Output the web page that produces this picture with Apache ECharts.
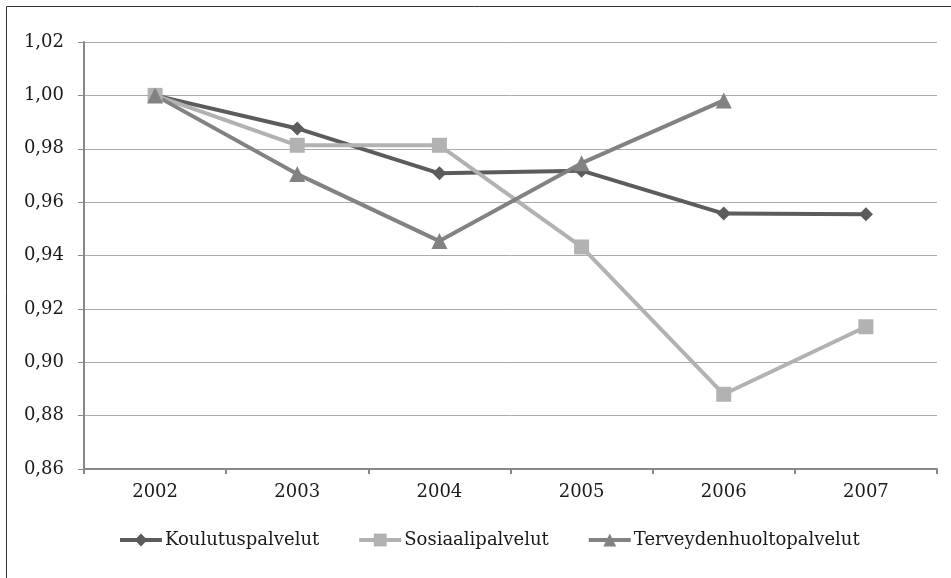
<!DOCTYPE html>
<html><head><meta charset="utf-8">
<script src="https://cdn.jsdelivr.net/npm/echarts@6/dist/echarts.min.js"></script>
<style>html,body{margin:0;padding:0;background:#fff}#c{width:951px;height:578px}</style>
</head><body><div id="c"></div>
<script>
const categories = ['2002','2003','2004','2005','2006','2007'];
const koulutus = [1.000, 0.9876, 0.9708, 0.9718, 0.9557, 0.9555];
const sosiaali = [1.000, 0.9813, 0.9813, 0.9432, 0.8880, 0.9133];
const terveys = [1.000, 0.9705, 0.9454, 0.9746, 0.9981, null];
const yMin = 0.86, yMax = 1.02, yStep = 0.02;

const font = 'DejaVu Serif';
const chart = echarts.init(document.getElementById('c'), null, {renderer:'canvas'});
function s(name, data, color, symbol, size){
  return {name, type:'line', data, symbol, symbolSize:size, showSymbol:true,
    lineStyle:{color, width:4}, itemStyle:{color}, connectNulls:false, animation:false};
}
chart.setOption({
  animation:false,
  textStyle:{fontFamily:font},
  graphic:[{type:'rect', shape:{x:6.5,y:6.5,width:960,height:600}, style:{fill:null, stroke:'#333', lineWidth:1}, silent:true}],
  grid:{left:84, right:14, top:42, bottom:109, containLabel:false},
  xAxis:{type:'category', data:categories, boundaryGap:true,
    axisLine:{lineStyle:{color:'#888', width:2}},
    axisTick:{show:true, length:5, lineStyle:{color:'#888', width:2}},
    axisLabel:{color:'#1a1a1a', fontSize:18, fontFamily:font, margin:14}},
  yAxis:{type:'value', min:yMin, max:yMax, interval:yStep,
    axisLine:{show:true, lineStyle:{color:'#888', width:2}},
    axisTick:{show:true, length:6, lineStyle:{color:'#888', width:1}},
    splitLine:{lineStyle:{color:'#aaa', width:1}},
    axisLabel:{color:'#1a1a1a', fontSize:18, fontFamily:font, margin:20,
      formatter:v=>v.toFixed(2).replace('.',',')}},
  legend:{bottom:24, left:113, itemWidth:42, itemHeight:16, itemGap:38,
    lineStyle:{width:4},
    textStyle:{color:'#1a1a1a', fontSize:18, fontFamily:font, padding:[0,0,0,-2]},
    data:['Koulutuspalvelut','Sosiaalipalvelut','Terveydenhuoltopalvelut']},
  series:[
    s('Koulutuspalvelut', koulutus, '#5c5c5c', 'diamond', 14),
    s('Sosiaalipalvelut', sosiaali, '#b2b2b2', 'rect', 15),
    s('Terveydenhuoltopalvelut', terveys, '#828282', 'triangle', 16)
  ]
});
</script></body></html>
